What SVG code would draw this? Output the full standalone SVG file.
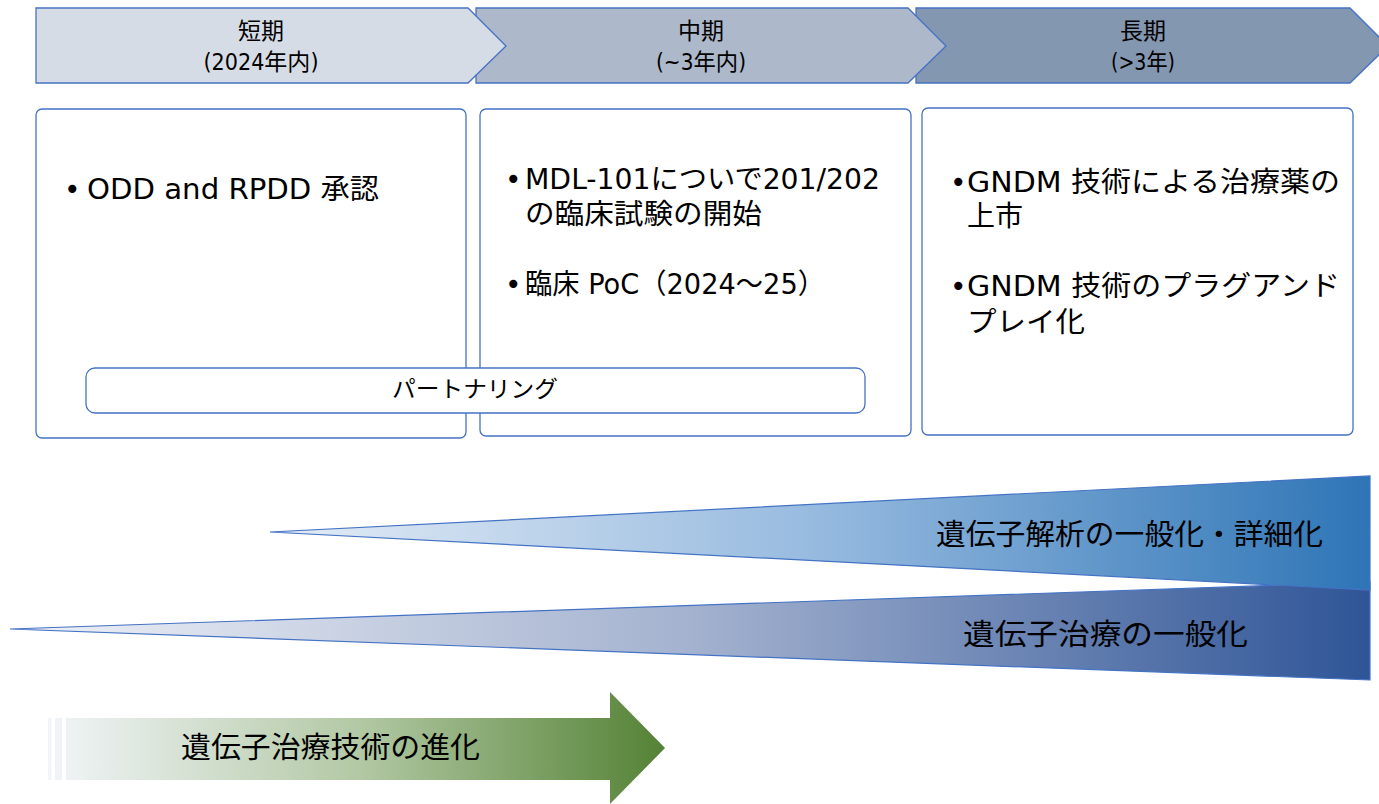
<svg xmlns="http://www.w3.org/2000/svg" width="1379" height="804" viewBox="0 0 1379 804">
<defs>
<style>
.chev{stroke:#4472c4;stroke-width:1.3}
.box{fill:#fff;stroke:#4472c4;stroke-width:1.3}
.wedge{stroke:#4472c4;stroke-width:1.2}
.ct{font-family:"Liberation Sans Narrow","DejaVu Sans Condensed","Noto Sans CJK JP",sans-serif;font-size:23px;fill:#000;text-anchor:middle}
.bt{font-family:"DejaVu Sans","Noto Sans CJK JP",sans-serif;font-size:28px;fill:#000}
.bu{font-family:"DejaVu Sans",sans-serif;font-size:28px;fill:#000}
.jt{font-family:"Noto Sans CJK JP",sans-serif;fill:#000}
</style>
<linearGradient id="g1" gradientUnits="userSpaceOnUse" x1="270" y1="0" x2="1370" y2="0">
<stop offset="0" stop-color="#e4ecf6"/>
<stop offset="0.5" stop-color="#96badf"/>
<stop offset="1" stop-color="#2e75b6"/>
</linearGradient>
<linearGradient id="g2" gradientUnits="userSpaceOnUse" x1="10" y1="0" x2="1370" y2="0">
<stop offset="0" stop-color="#eef1f7"/>
<stop offset="0.5" stop-color="#a4b2cf"/>
<stop offset="1" stop-color="#2f5597"/>
</linearGradient>
<linearGradient id="g3" gradientUnits="userSpaceOnUse" x1="48" y1="0" x2="665" y2="0">
<stop offset="0" stop-color="#f2f5f9"/>
<stop offset="0.5" stop-color="#b3c9a5"/>
<stop offset="1" stop-color="#548235"/>
</linearGradient>
</defs>
<rect width="1379" height="804" fill="#fff"/>

<g id="chevron-long">
<polygon class="chev" fill="#8497b0" points="916,8 1350,8 1388,46 1350,83 916,83"/>
<text class="ct" x="1143" y="39">長期</text>
<text class="ct" x="1143" y="70" textLength="64" lengthAdjust="spacingAndGlyphs">(&gt;3年)</text>
</g>
<g id="chevron-mid">
<polygon class="chev" fill="#adb9ca" points="476,8 908,8 946,46 908,83 476,83"/>
<text class="ct" x="701" y="39">中期</text>
<text class="ct" x="701" y="70" textLength="90" lengthAdjust="spacingAndGlyphs">(~3年内)</text>
</g>
<g id="chevron-short">
<polygon class="chev" fill="#d6dce5" points="36,8 468,8 506,46 468,83 36,83"/>
<text class="ct" x="261" y="39">短期</text>
<text class="ct" x="261" y="70" textLength="115" lengthAdjust="spacingAndGlyphs">(2024年内)</text>
</g>

<g id="box-short">
<rect class="box" x="36" y="109" width="430" height="329" rx="6"/>
<text class="bu" x="64" y="199">•</text>
<text class="bt" x="87" y="199" textLength="292" lengthAdjust="spacingAndGlyphs">ODD and RPDD 承認</text>
</g>
<g id="box-mid">
<rect class="box" x="480" y="109" width="431" height="327" rx="6"/>
<text class="bu" x="505" y="189">•</text>
<text class="bt" x="525" y="189" textLength="355" lengthAdjust="spacingAndGlyphs">MDL-101についで201/202</text>
<text class="bt" x="525" y="224" textLength="237" lengthAdjust="spacingAndGlyphs">の臨床試験の開始</text>
<text class="bu" x="505" y="294">•</text>
<text class="bt" x="525" y="294" textLength="300" lengthAdjust="spacingAndGlyphs">臨床 PoC（2024～25）</text>
</g>
<g id="box-long">
<rect class="box" x="922" y="108" width="431" height="327" rx="6"/>
<text class="bu" x="950" y="192">•</text>
<text class="bt" x="967" y="192" textLength="373" lengthAdjust="spacingAndGlyphs">GNDM 技術による治療薬の</text>
<text class="bt" x="967" y="226" textLength="56" lengthAdjust="spacingAndGlyphs">上市</text>
<text class="bu" x="950" y="296">•</text>
<text class="bt" x="967" y="296" textLength="373" lengthAdjust="spacingAndGlyphs">GNDM 技術のプラグアンド</text>
<text class="bt" x="967" y="332" textLength="118" lengthAdjust="spacingAndGlyphs">プレイ化</text>
</g>
<g id="partnering">
<rect class="box" x="86" y="368" width="779" height="45" rx="9"/>
<text class="jt" x="392" y="397" font-size="23" textLength="166" lengthAdjust="spacingAndGlyphs">パートナリング</text>
</g>

<g id="wedge-therapy">
<polygon class="wedge" fill="url(#g2)" points="10,629 1370,582 1370,680"/>
<text class="jt" x="963" y="645" font-size="29" textLength="285" lengthAdjust="spacingAndGlyphs">遺伝子治療の一般化</text>
</g>
<g id="wedge-analysis">
<polygon class="wedge" fill="url(#g1)" points="270,532 1370,476 1370,590"/>
<text class="jt" x="936" y="545" font-size="29" textLength="387" lengthAdjust="spacingAndGlyphs">遺伝子解析の一般化・詳細化</text>
</g>

<g id="arrow-evolution">
<rect x="48" y="718" width="3.5" height="62" fill="url(#g3)"/>
<rect x="55" y="718" width="7" height="62" fill="url(#g3)"/>
<path d="M66,718 H610 V692 L665,748 L610,804 V780 H66 Z" fill="url(#g3)"/>
<text class="jt" x="181" y="758" font-size="29" textLength="299" lengthAdjust="spacingAndGlyphs">遺伝子治療技術の進化</text>
</g>

<g id="connectors"></g>
</svg>
